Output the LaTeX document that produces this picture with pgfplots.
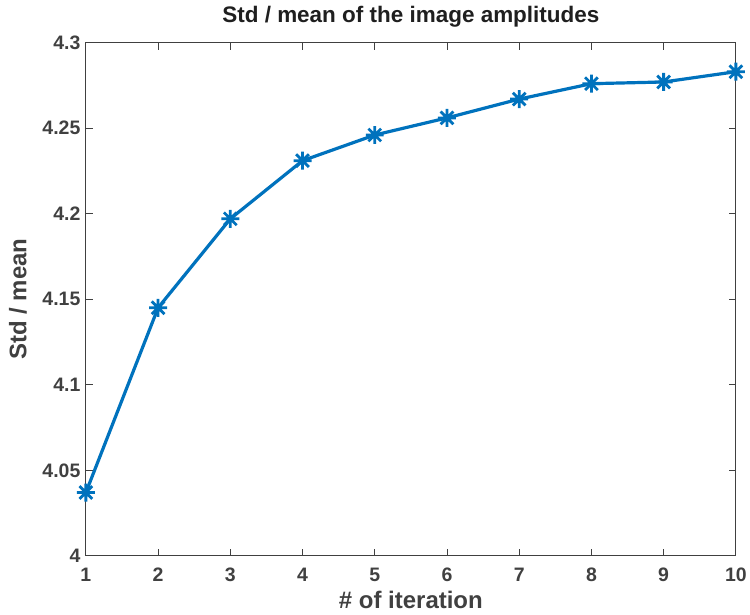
\documentclass[border=0pt]{standalone}
\usepackage{fontspec}
\setmainfont{Liberation Sans}
\usepackage{pgfplots}
\pgfplotsset{compat=1.18}
\definecolor{mblue}{rgb}{0,0.447,0.741}
\definecolor{axgray}{gray}{0.25}
\pgfdeclareplotmark{mstar}{%
  \pgfpathmoveto{\pgfqpoint{-\pgfplotmarksize}{0pt}}\pgfpathlineto{\pgfqpoint{\pgfplotmarksize}{0pt}}%
  \pgfpathmoveto{\pgfqpoint{0pt}{-\pgfplotmarksize}}\pgfpathlineto{\pgfqpoint{0pt}{\pgfplotmarksize}}%
  \pgfpathmoveto{\pgfqpoint{-0.7071\pgfplotmarksize}{-0.7071\pgfplotmarksize}}\pgfpathlineto{\pgfqpoint{0.7071\pgfplotmarksize}{0.7071\pgfplotmarksize}}%
  \pgfpathmoveto{\pgfqpoint{-0.7071\pgfplotmarksize}{0.7071\pgfplotmarksize}}\pgfpathlineto{\pgfqpoint{0.7071\pgfplotmarksize}{-0.7071\pgfplotmarksize}}%
  \pgfusepathqstroke}
\begin{document}
\begin{tikzpicture}
\path (-86bp,-58.3bp) rectangle (664bp,556.7bp);
\begin{axis}[
  at={(0,0)}, anchor=south west,
  scale only axis, width=651bp, height=514bp,
  xmin=1, xmax=10, ymin=4, ymax=4.3,
  xtick={1,...,10}, ytick={4,4.05,...,4.3},
  yticklabels={4,4.05,4.1,4.15,4.2,4.25,4.3},
  axis line style={axgray, line width=1pt},
  tick style={axgray, line width=0.8pt},
  major tick length=7bp,
  tick align=inside,
  xtick pos=both, ytick pos=both,
  /pgf/number format/assume math mode=true,
  ticklabel style={font=\fontsize{19.5bp}{22bp}\selectfont\bfseries, text=axgray},
  xticklabel style={yshift=-9bp},
  yticklabel style={xshift=-2bp},
  title={Std / mean of the image amplitudes},
  title style={font=\fontsize{22.5bp}{25bp}\selectfont\bfseries, text=black!88, at={(axis description cs:0.5,1.027)}, anchor=base},
  xlabel={\# of iteration},
  xlabel style={font=\fontsize{24bp}{26bp}\selectfont\bfseries, text=axgray, at={(axis description cs:0.5,-0.0856)}, anchor=center},
  ylabel={Std / mean},
  ylabel style={font=\fontsize{24bp}{26bp}\selectfont\bfseries, text=axgray, at={(axis description cs:-0.1045,0.5)}, anchor=center, rotate=0},
  clip=false,
]
\addplot[mblue, line width=3.2bp, mark=mstar, mark size=9bp, mark options={line width=2.8bp}]
coordinates {(1,4.037) (2,4.145) (3,4.197) (4,4.231) (5,4.246) (6,4.256) (7,4.267) (8,4.276) (9,4.277) (10,4.283)};
\end{axis}
\end{tikzpicture}
\end{document}
